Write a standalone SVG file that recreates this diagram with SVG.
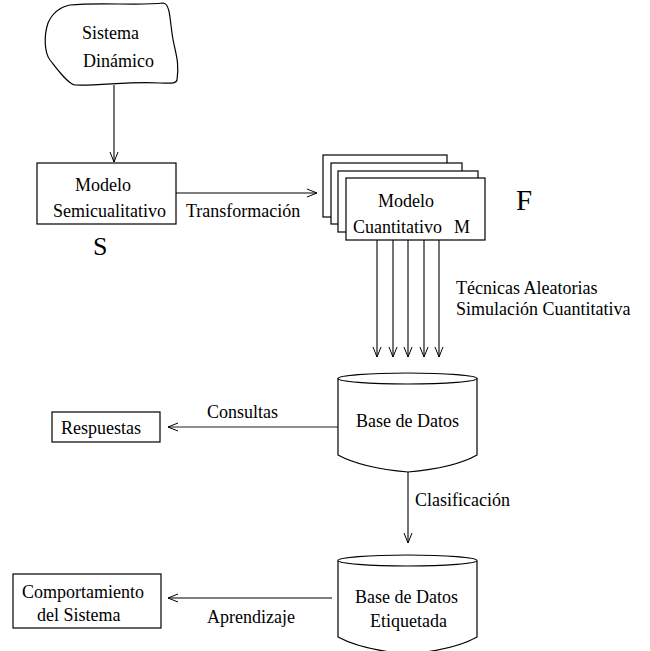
<svg xmlns="http://www.w3.org/2000/svg" width="650" height="651" viewBox="0 0 650 651">
<style>
text{font-family:"Liberation Serif",Tinos,"Times New Roman","DejaVu Serif",serif;font-size:18px;fill:#000}
.s{fill:#fff;stroke:#000;stroke-width:1.2}
.c{fill:none;stroke:#000;stroke-width:1.1}
text.bigS{font-size:26px}
text.bigF{font-size:29px}
</style>
<defs>
<marker id="ah" viewBox="0 0 10 10" refX="10" refY="5" markerWidth="10" markerHeight="10" markerUnits="userSpaceOnUse" orient="auto">
<path d="M0,1 L10,5 L0,9" fill="none" stroke="#000" stroke-width="1"/>
</marker>
</defs>
<rect width="650" height="651" fill="#fff"/>
<g id="connectors" font-family="Liberation Serif, serif">
<line class="c" x1="114" y1="85" x2="114" y2="162" marker-end="url(#ah)"/>
<line class="c" x1="176" y1="193" x2="317" y2="193" marker-end="url(#ah)"/>
<line class="c" x1="377" y1="240" x2="377" y2="357" marker-end="url(#ah)"/>
<line class="c" x1="393" y1="240" x2="393" y2="357" marker-end="url(#ah)"/>
<line class="c" x1="408" y1="240" x2="408" y2="357" marker-end="url(#ah)"/>
<line class="c" x1="424" y1="240" x2="424" y2="357" marker-end="url(#ah)"/>
<line class="c" x1="439" y1="240" x2="439" y2="357" marker-end="url(#ah)"/>
<line x1="338" y1="427" x2="168" y2="427" stroke="#6a6a6a" stroke-width="1.5" marker-end="url(#ah)"/>
<line class="c" x1="408" y1="472" x2="408" y2="543" marker-end="url(#ah)"/>
<line class="c" x1="332" y1="598" x2="168" y2="598" marker-end="url(#ah)"/>
<text x="186" y="217">Transformación</text>
<text x="456" y="294">Técnicas Aleatorias</text>
<text x="456" y="315">Simulación Cuantitativa</text>
<text x="207" y="418">Consultas</text>
<text x="415" y="506">Clasificación</text>
<text x="207" y="623">Aprendizaje</text>
</g>
<g id="sistema">
<path class="s" d="M70,5 C100,2 140,6 163,3 C170,3 170,20 172,33 C174,50 180,60 177,80 C176,84 170,83 160,83 C130,81 100,86 75,85 C68,84 58,70 50,60 C44,52 44,35 48,23 C52,14 60,7 70,5 Z"/>
<text x="82" y="39">Sistema</text>
<text x="83" y="67">Dinámico</text>
</g>
<g id="semicualitativo">
<rect class="s" x="37" y="163" width="139" height="61"/>
<text x="75" y="191">Modelo</text>
<text x="53" y="217">Semicualitativo</text>
<text class="bigS" x="93" y="255">S</text>
</g>
<g id="cuantitativo">
<rect class="s" x="323" y="155" width="124" height="62"/>
<rect class="s" x="331" y="163" width="131" height="61"/>
<rect class="s" x="338" y="171" width="140" height="61"/>
<rect class="s" x="346" y="178" width="139" height="62"/>
<text x="378" y="207">Modelo</text>
<text y="233"><tspan x="353">Cuantitativo</tspan><tspan x="454">M</tspan></text>
<text class="bigF" x="516" y="210">F</text>
</g>
<g id="basedatos">
<path class="s" d="M338,378 L338,455 Q362,468 408,472 Q454,468 477,455 L477,378"/>
<ellipse class="s" cx="407.5" cy="378.5" rx="69.5" ry="5.5"/>
<text x="356" y="427">Base de Datos</text>
</g>
<g id="respuestas">
<rect class="s" x="52" y="412" width="108" height="30"/>
<text x="61" y="434">Respuestas</text>
</g>
<g id="etiquetada">
<path class="s" d="M338,561 L338,637 Q362,650 408,654 Q454,650 477,637 L477,561"/>
<ellipse class="s" cx="407.5" cy="560.5" rx="69.5" ry="5.5"/>
<text x="355" y="603">Base de Datos</text>
<text x="370" y="627">Etiquetada</text>
</g>
<g id="comportamiento">
<rect class="s" x="13" y="574" width="148" height="54"/>
<text x="22" y="598">Comportamiento</text>
<text x="37" y="621">del Sistema</text>
</g>
</svg>
